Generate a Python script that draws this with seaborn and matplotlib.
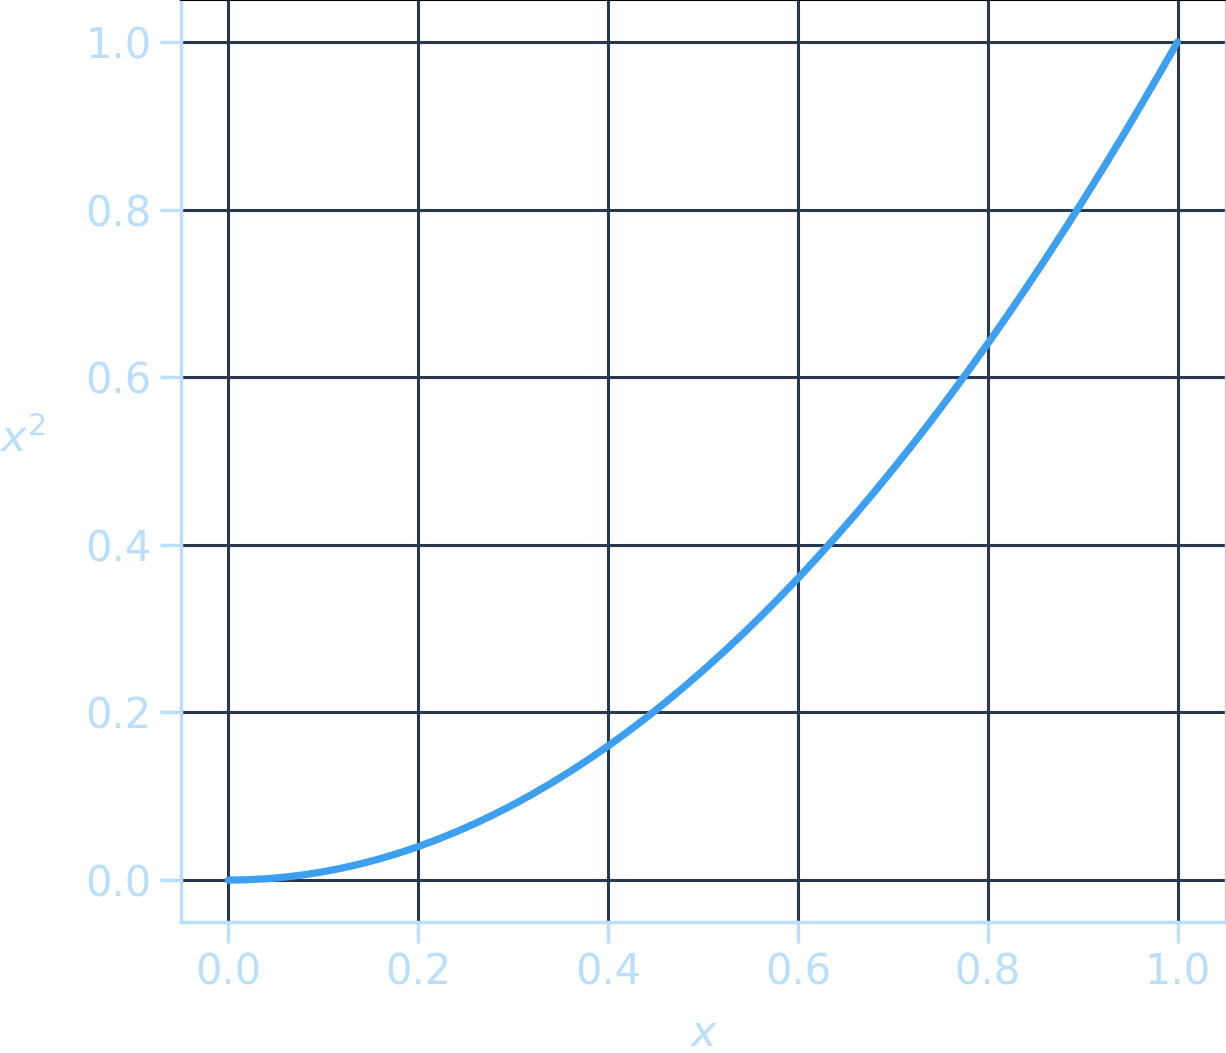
import numpy as np
import pandas as pd
import matplotlib
matplotlib.use("Agg")
import matplotlib.pyplot as plt
import seaborn as sns

x_values = [0.0, 0.02, 0.04, 0.06, 0.08, 0.1, 0.12, 0.14, 0.16, 0.18, 0.2,
            0.22, 0.24, 0.26, 0.28, 0.3, 0.32, 0.34, 0.36, 0.38, 0.4,
            0.42, 0.44, 0.46, 0.48, 0.5, 0.52, 0.54, 0.56, 0.58, 0.6,
            0.62, 0.64, 0.66, 0.68, 0.7, 0.72, 0.74, 0.76, 0.78, 0.8,
            0.82, 0.84, 0.86, 0.88, 0.9, 0.92, 0.94, 0.96, 0.98, 1.0]
y_values = [0.0, 0.0004, 0.0016, 0.0036, 0.0064, 0.01, 0.0144, 0.0196, 0.0256, 0.0324, 0.04,
            0.0484, 0.0576, 0.0676, 0.0784, 0.09, 0.1024, 0.1156, 0.1296, 0.1444, 0.16,
            0.1764, 0.1936, 0.2116, 0.2304, 0.25, 0.2704, 0.2916, 0.3136, 0.3364, 0.36,
            0.3844, 0.4096, 0.4356, 0.4624, 0.49, 0.5184, 0.5476, 0.5776, 0.6084, 0.64,
            0.6724, 0.7056, 0.7396, 0.7744, 0.81, 0.8464, 0.8836, 0.9216, 0.9604, 1.0]
tick_values = [0.0, 0.2, 0.4, 0.6, 0.8, 1.0]

df = pd.DataFrame({"x": x_values, "y": y_values})

sns.set_style("white")
light = "#bbdefb"
grid_c = "#29384f"
line_c = "#3d9ff0"

fig = plt.figure(figsize=(12.26, 10.53), dpi=100)
ax = fig.add_axes([181/1226, 131/1053, (1225-181)/1226, 922/1053])

sns.lineplot(data=df, x="x", y="y", ax=ax, color=line_c, linewidth=5.2, zorder=3)

ax.set_xlim(-0.05, 1.05)
ax.set_ylim(-0.05, 1.05)
ax.set_xticks(tick_values)
ax.set_yticks(tick_values)
ax.set_xticklabels([f"{t:.1f}" for t in tick_values])
ax.set_yticklabels([f"{t:.1f}" for t in tick_values])

ax.grid(True, color=grid_c, linewidth=2.2, zorder=1)
ax.set_axisbelow(True)

for s in ["left", "bottom"]:
    ax.spines[s].set_color(light)
    ax.spines[s].set_linewidth(2.5)
ax.spines["top"].set_color("black")
ax.spines["top"].set_linewidth(1.5)
ax.spines["right"].set_color("#cccccc")
ax.spines["right"].set_linewidth(1.0)

ax.tick_params(axis="both", colors=light, labelcolor=light, length=15, width=2.5,
               labelsize=30, pad=6, direction="out", bottom=True, left=True)

ax.set_xlabel("$x$", color=light, fontsize=31, labelpad=14)
ax.set_ylabel("$x^2$", color=light, fontsize=31, rotation=0, labelpad=10)
ax.yaxis.set_label_coords(-0.152, 0.5)

fig.savefig("out.png", dpi=100)
